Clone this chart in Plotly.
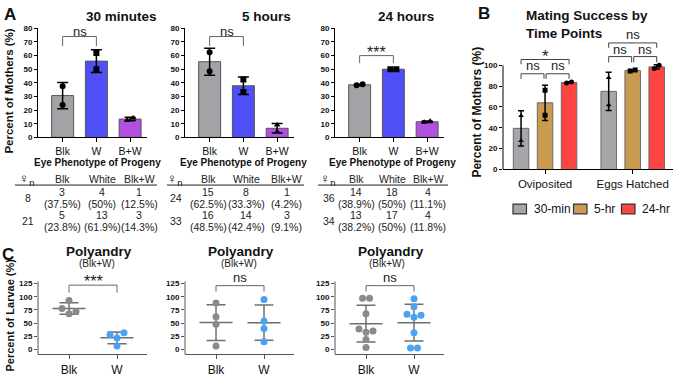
import numpy as np
import plotly.graph_objects as go

W, H = 675, 377
FONT = "Arial, 'Liberation Sans', Helvetica, sans-serif"


def fx(p):
    return p / W


def fy(p):
    return 1 - p / H


# ---------------- DATA ----------------
# Panel A: percent of mothers, two replicates per phenotype
a_titles = ["30 minutes", "5 hours", "24 hours"]
a_categories = ["Blk", "W", "B+W"]
a_30min_blk = [37.5, 23.8]
a_30min_w = [61.9, 50.0]
a_30min_bw = [12.5, 14.3]
a_5h_blk = [62.5, 48.5]
a_5h_w = [42.4, 33.3]
a_5h_bw = [9.1, 4.2]
a_24h_blk = [38.2, 38.9]
a_24h_w = [50.0, 50.0]
a_24h_bw = [11.1, 11.8]
a_sig = ["ns", "ns", "***"]
a_xtitle = "Eye Phenotype of Progeny"

# Tables under panel A
t_header = ["Blk", "White", "Blk+W"]
t_30min_n = [8, 21]
t_30min_counts = [[3, 4, 1], [5, 13, 3]]
t_30min_pct = [["37.5%", "50%", "12.5%"], ["23.8%", "61.9%", "14.3%"]]
t_5h_n = [24, 33]
t_5h_counts = [[15, 8, 1], [16, 14, 3]]
t_5h_pct = [["62.5%", "33.3%", "4.2%"], ["48.5%", "42.4%", "9.1%"]]
t_24h_n = [36, 34]
t_24h_counts = [[14, 18, 4], [13, 17, 4]]
t_24h_pct = [["38.9%", "50%", "11.1%"], ["38.2%", "50%", "11.8%"]]

# Panel B
b_title = "Mating Success by<br>Time Points"
b_groups = ["Oviposited", "Eggs Hatched"]
b_series = ["30-min", "5-hr", "24-hr"]
b_30min_ovi = [51.5, 27.5]
b_30min_hatch = [88.0, 62.0]
b_5hr_ovi = [76.0, 52.0]
b_5hr_hatch = [94.5, 95.5]
b_24hr_ovi = [83.0, 84.0]
b_24hr_hatch = [97.0, 100.0]
b_sig_ovi = ["ns", "ns", "*"]      # 30-5, 5-24, 30-24
b_sig_hatch = ["ns", "ns", "ns"]

# Panel C: percent of larvae
c_title = "Polyandry"
c_subtitle = "(Blk+W)"
c_categories = ["Blk", "W"]
c1_blk = [93, 78, 68, 72]
c1_w = [7, 28, 22, 32]
c2_blk = [88, 62, 48, 7]
c2_w = [95, 54, 40, 15]
c3_blk = [97, 97, 68, 39, 33, 35, 19, 4]
c3_w = [96, 81, 67, 61, 65, 32, 3, 3]
c_sig = ["***", "ns", "ns"]

# ---------------- STYLE / GEOMETRY (pixels) ----------------
a_colors = ["#a3a3a7", "#4f4ff7", "#b251e0"]
a_symbols = ["circle", "square", "triangle-up"]
b_colors = ["#a6a6aa", "#c99a50", "#ff4444"]
b_symbols = ["triangle-up", "square", "circle"]
c_colors = ["#8a8a8a", "#4aa3f2"]

A_X = [(38, 147), (185, 294), (335, 444)]
A_Y = (25, 137)
A_XR = [-0.73, 2.5]
A_YR = [0, 80]
B_X = (503, 673)
B_YR = [0, 132]
B_Y = (170 - 132 * 1.07, 170)
B_XR = [-0.48, 1.46]
C_X = A_X
C_YR = [-9.2, 142]
C_AXTOP = 129
C_UNIT = 75 / (C_AXTOP - C_YR[0])
C_Y = (360 - (C_YR[1] - C_YR[0]) * C_UNIT, 360)
C_XR = [-0.646, 1.625]

layout_axes = {}
shapes = []
annotations = []
fig = go.Figure()


def swarm(values, unit_px, thresh_px):
    v = np.asarray(values, float)
    order = np.argsort(-v, kind="stable")
    offs = np.zeros(len(v))
    clusters, cur = [], [order[0]]
    for a, b in zip(order[:-1], order[1:]):
        if abs(v[a] - v[b]) * unit_px < thresh_px:
            cur.append(b)
        else:
            clusters.append(cur)
            cur = [b]
    clusters.append(cur)
    for cl in clusters:
        cl = sorted(cl)
        n = len(cl)
        for j, i in enumerate(cl):
            offs[i] = j - (n - 1) / 2
    return offs


def add_axes(i, xd, yd, xr, yr, xkw, ykw):
    sx = "" if i == 1 else str(i)
    layout_axes[f"xaxis{sx}"] = dict(domain=[fx(xd[0]), fx(xd[1])], range=xr,
                                     anchor=f"y{sx}", **xkw)
    layout_axes[f"yaxis{sx}"] = dict(domain=[fy(yd[1]), fy(yd[0])], range=yr,
                                     anchor=f"x{sx}", **ykw)
    return f"x{sx}", f"y{sx}"


def xstyle(color, tickvals, ticktext, size):
    return dict(showline=True, linecolor=color, linewidth=1, ticks="outside",
                ticklen=4, tickcolor=color, tickwidth=1, tickvals=tickvals,
                ticktext=ticktext, tickfont=dict(family=FONT, size=size, color="#111"),
                showgrid=False, zeroline=False, fixedrange=True)


def ystyle(color, tickvals, showline=True, size=8):
    return dict(showline=showline, linecolor=color, linewidth=1, ticks="outside",
                ticklen=3, tickcolor=color, tickwidth=1, tickvals=tickvals,
                tickfont=dict(family=FONT, size=size, color="#111", weight="bold"),
                showgrid=False, zeroline=False, fixedrange=True)


def text(x, y, t, size, bold=False, xanchor="center", yanchor="middle",
         angle=0, color="#111", align="center"):
    annotations.append(dict(xref="paper", yref="paper", x=fx(x), y=fy(y),
                            text=f"<b>{t}</b>" if bold else t, showarrow=False,
                            xanchor=xanchor, yanchor=yanchor, textangle=angle,
                            align=align,
                            font=dict(family=FONT, size=size, color=color)))


def bracket(xa, ya, x0, x1, ytop, ybot, label, ytext, size, color="#666"):
    shapes.append(dict(type="path", xref=xa, yref=ya,
                       path=f"M {x0},{ybot} L {x0},{ytop} L {x1},{ytop} L {x1},{ybot}",
                       line=dict(color=color, width=1)))
    annotations.append(dict(xref=xa, yref=ya, x=(x0 + x1) / 2, y=ytext, text=label,
                            showarrow=False, xanchor="center", yanchor="middle",
                            font=dict(family=FONT, size=size, color="#222")))


# ---------------- PANEL A ----------------
a_data = [[a_30min_blk, a_30min_w, a_30min_bw],
          [a_5h_blk, a_5h_w, a_5h_bw],
          [a_24h_blk, a_24h_w, a_24h_bw]]
a_title_x = [122, 266, 406]
a_xtitle_x = [97.5, 244, 392.5]
for i in range(3):
    xa, ya = add_axes(i + 1, A_X[i], A_Y, A_XR, A_YR,
                      xstyle("black", [0, 1, 2], a_categories, 10.5),
                      ystyle("black", list(range(0, 81, 10))))
    xunit = (A_X[i][1] - A_X[i][0]) / (A_XR[1] - A_XR[0])
    yunit = (A_Y[1] - A_Y[0]) / (A_YR[1] - A_YR[0])
    means = [float(np.mean(v)) for v in a_data[i]]
    sds = [float(np.std(v, ddof=1)) for v in a_data[i]]
    xs = list(range(3))
    fig.add_trace(go.Bar(x=xs, y=means, width=0.65, xaxis=xa, yaxis=ya,
                         marker=dict(color=a_colors, line=dict(color="#555", width=1)),
                         showlegend=False, hoverinfo="skip"))
    fig.add_trace(go.Scatter(x=xs, y=means, mode="markers", xaxis=xa, yaxis=ya,
                             marker=dict(size=1, opacity=0), showlegend=False,
                             error_y=dict(type="data", array=sds, color="black",
                                          thickness=1.5, width=5.5),
                             hoverinfo="skip"))
    for j, vals in enumerate(a_data[i]):
        offs = swarm(vals, yunit, 5) * 6 / xunit
        fig.add_trace(go.Scatter(x=j + offs, y=vals, mode="markers", xaxis=xa, yaxis=ya,
                                 marker=dict(color="black", size=6, symbol=a_symbols[j]),
                                 showlegend=False, hoverinfo="skip"))
    if a_sig[i] == "***":
        bracket(xa, ya, 0, 1, 60, 54.5, a_sig[i], 62.5, 16)
    else:
        bracket(xa, ya, 0, 1, 74, 67, a_sig[i], 78, 13)
    text(a_title_x[i], 13, a_titles[i], 13.5, bold=True)
    text(a_xtitle_x[i], 162.5, a_xtitle, 10, bold=True)

text(10, 11, "A", 17, bold=True)
text(9, 90, "Percent of Mothers (%)", 11.5, bold=True, angle=-90)

# ---------------- TABLES ----------------
tables = [(t_30min_n, t_30min_counts, t_30min_pct),
          (t_5h_n, t_5h_counts, t_5h_pct),
          (t_24h_n, t_24h_counts, t_24h_pct)]
t_female_x = [26, 174, 327]
t_col_x = [[62, 102, 139], [208, 246, 286.5], [356, 392, 428]]
t_line = [(15, 157), (167, 304), (318, 448)]
t_row_count_y = [193, 217]
t_row_pct_y = [205, 229.5]
t_row_n_y = [199, 223]
TS = 10.5
for k, (nn, counts, pcts) in enumerate(tables):
    text(t_female_x[k], 180, "<b>♀</b><sub>n</sub>", 13.5)
    for c, h in enumerate(t_header):
        text(t_col_x[k][c], 180, h, TS, color="#222")
    shapes.append(dict(type="line", xref="paper", yref="paper",
                       x0=fx(t_line[k][0]), x1=fx(t_line[k][1]), y0=fy(186), y1=fy(186),
                       line=dict(color="#222", width=1)))
    for r in range(2):
        text(t_female_x[k] + 2, t_row_n_y[r], str(nn[r]), TS, color="#222")
        for c in range(3):
            text(t_col_x[k][c], t_row_count_y[r], str(counts[r][c]), TS, color="#222")
            text(t_col_x[k][c], t_row_pct_y[r], f"({pcts[r][c]})", TS, color="#222")

# ---------------- PANEL B ----------------
xa, ya = add_axes(4, B_X, B_Y, B_XR, B_YR,
                  xstyle("black", [0, 1], b_groups, 11.5),
                  ystyle("black", list(range(0, 101, 20)), showline=False))
shapes.append(dict(type="line", xref="paper", yref=ya, x0=fx(B_X[0]), x1=fx(B_X[0]),
                   y0=0, y1=100, line=dict(color="black", width=1)))
b_data = [[b_30min_ovi, b_30min_hatch], [b_5hr_ovi, b_5hr_hatch], [b_24hr_ovi, b_24hr_hatch]]
b_xunit = (B_X[1] - B_X[0]) / (B_XR[1] - B_XR[0])
b_yunit = (B_Y[1] - B_Y[0]) / (B_YR[1] - B_YR[0])
b_step = 24 / b_xunit
b_barw = 15.5 / b_xunit
b_pos = [[g + (k - 1) * b_step for g in range(2)] for k in range(3)]
for k in range(3):
    means = [float(np.mean(v)) for v in b_data[k]]
    sds = [float(np.std(v, ddof=1)) for v in b_data[k]]
    fig.add_trace(go.Bar(x=b_pos[k], y=means, width=b_barw, xaxis=xa, yaxis=ya,
                         marker=dict(color=b_colors[k], line=dict(color="#6a6a6a", width=1)),
                         showlegend=False, hoverinfo="skip"))
    fig.add_trace(go.Scatter(x=b_pos[k], y=means, mode="markers", xaxis=xa, yaxis=ya,
                             marker=dict(size=1, opacity=0), showlegend=False,
                             error_y=dict(type="data", array=sds, color="black",
                                          thickness=1.5, width=3),
                             hoverinfo="skip"))
    for g in range(2):
        vals = b_data[k][g]
        offs = swarm(vals, b_yunit, 5) * 5 / b_xunit
        fig.add_trace(go.Scatter(x=b_pos[k][g] + offs, y=vals, mode="markers",
                                 xaxis=xa, yaxis=ya,
                                 marker=dict(color="black", size=5, symbol=b_symbols[k]),
                                 showlegend=False, hoverinfo="skip"))

gap = 0.012
for g, sig in enumerate([b_sig_ovi, b_sig_hatch]):
    p0, p1, p2 = b_pos[0][g], b_pos[1][g], b_pos[2][g]
    if g == 0:
        inner = (91.9, 87, 99.5)
        outer = (105.6, 101, 108.5)
    else:
        inner = (108.4, 102.8, 115.4)
        outer = (121.5, 116.8, 129.2)
    bracket(xa, ya, p0, p1 - gap, inner[0], inner[1], sig[0], inner[2], 13, "#444")
    bracket(xa, ya, p1 + gap, p2, inner[0], inner[1], sig[1], inner[2], 13, "#444")
    bracket(xa, ya, p0, p2, outer[0], outer[1], sig[2], outer[2],
            17 if sig[2] == "*" else 13, "#444")

text(484, 10, "B", 17, bold=True)
text(524, 21, b_title, 13.5, bold=True, xanchor="left", align="left")
text(477.5, 111, "Percent of Mothers (%)", 12, bold=True, angle=-90)

leg_x = [513, 573.5, 621.5]
for k, name in enumerate(b_series):
    shapes.append(dict(type="rect", xref="paper", yref="paper",
                       x0=fx(leg_x[k]), x1=fx(leg_x[k] + 13.5), y0=fy(215.5), y1=fy(205.5),
                       fillcolor=b_colors[k], line=dict(color="#333", width=1.2)))
    text(leg_x[k] + 18.5, 210.5, name, 12, xanchor="left")

# ---------------- PANEL C ----------------
c_data = [[c1_blk, c1_w], [c2_blk, c2_w], [c3_blk, c3_w]]
c_title_x = [99, 241, 391]
c_sub_x = [97, 238.5, 387]
for i in range(3):
    xa, ya = add_axes(5 + i, C_X[i], C_Y, C_XR, C_YR,
                      xstyle("#555", [0, 1], c_categories, 12),
                      ystyle("#555", list(range(0, 126, 25)), showline=False))
    shapes.append(dict(type="line", xref="paper", yref=ya, x0=fx(C_X[i][0]),
                       x1=fx(C_X[i][0]), y0=C_YR[0], y1=C_AXTOP,
                       line=dict(color="#555", width=1)))
    xunit = (C_X[i][1] - C_X[i][0]) / (C_XR[1] - C_XR[0])
    yunit = C_UNIT
    for j, vals in enumerate(c_data[i]):
        m = float(np.mean(vals))
        s = float(np.std(vals, ddof=1))
        fig.add_trace(go.Scatter(x=[j], y=[m], mode="markers", xaxis=xa, yaxis=ya,
                                 marker=dict(size=1, opacity=0), showlegend=False,
                                 error_y=dict(type="constant", value=s, width=9.5,
                                              thickness=1.5, color="#6f6f6f"),
                                 error_x=dict(type="constant", value=16.5 / xunit, width=0,
                                              thickness=1.5, color="#6f6f6f"),
                                 hoverinfo="skip"))
        offs = swarm(vals, yunit, 6) * 7 / xunit
        fig.add_trace(go.Scatter(x=j + offs, y=vals, mode="markers", xaxis=xa, yaxis=ya,
                                 marker=dict(color=c_colors[j], size=7),
                                 showlegend=False, hoverinfo="skip"))
    if c_sig[i] == "***":
        bracket(xa, ya, 0, 1, 122, 108, c_sig[i], 128, 16)
    else:
        bracket(xa, ya, 0, 1, 121, 110, c_sig[i], 136, 13)
    text(c_title_x[i], 254, c_title, 13.5, bold=True)
    text(c_sub_x[i], 266.5, c_subtitle, 10, color="#222")

text(8, 257, "C", 17, bold=True)
text(10, 320, "Percent of Larvae (%)", 11, bold=True, angle=-90)

fig.update_layout(width=W, height=H, autosize=False,
                  margin=dict(l=0, r=0, t=0, b=0, pad=0),
                  paper_bgcolor="white", plot_bgcolor="white",
                  showlegend=False, barmode="overlay",
                  font=dict(family=FONT, color="#111"),
                  shapes=shapes, annotations=annotations, **layout_axes)

fig.write_html("out.html", config={"displayModeBar": False},
               post_script="document.body.style.margin='0';")
